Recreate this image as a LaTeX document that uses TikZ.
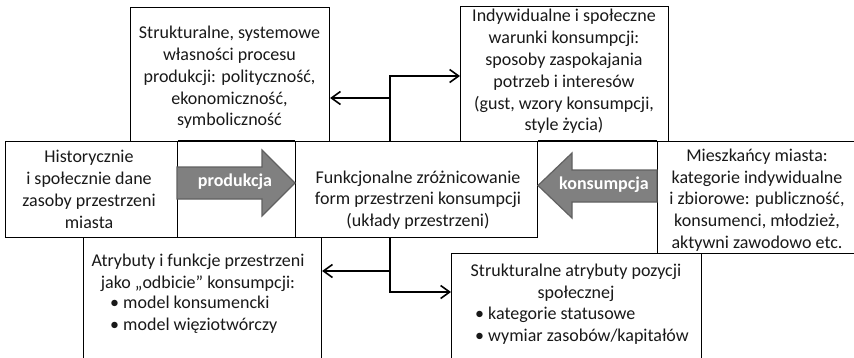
\documentclass[tikz,border=0pt]{standalone}
\usepackage{fontspec}
\setmainfont{Carlito}
\usetikzlibrary{arrows.meta,calc}
\begin{document}
\begin{tikzpicture}[x=1pt,y=-1pt,
 box/.style={draw=black, line width=1.1pt, fill=white, inner sep=0pt, anchor=north west},
 txt/.style={inner sep=0pt, align=center, text=black!90, font=\fontsize{18}{21.8}\selectfont},
 lst/.style={inner sep=0pt, align=left, anchor=west, text=black!90, font=\fontsize{18}{21.8}\selectfont},
 conn/.style={line width=1.6pt, -{Straight Barb[length=9pt,width=13pt]}},
 barrow/.style={fill=black!50, draw=black!62, line width=1.2pt, line join=miter},
 blab/.style={inner sep=0pt, text=white, font=\fontsize{18}{21.8}\selectfont\bfseries},
]
\useasboundingbox (0,0) rectangle (854,357);
\clip (0,0) rectangle (854,357);

% boxes
\node[box, minimum width=199pt, minimum height=134pt] (strukt) at (130,7) {};
\node[box, minimum width=208pt, minimum height=135pt] (indy) at (460,6) {};
\node[box, minimum width=172pt, minimum height=96pt] (hist) at (5,141) {};
\node[box, minimum width=242pt, minimum height=96pt] (funk) at (295,141) {};
\node[box, minimum width=220pt, minimum height=112pt] (mies) at (657,141) {};
\node[box, minimum width=238pt, minimum height=150pt] (atr) at (83,237) {};
\node[box, minimum width=250pt, minimum height=150pt] (stat) at (451,253) {};

% cell borders around the block arrows
\draw[line width=1.1pt] (hist.north east) -- (funk.north west);
\draw[line width=1.1pt] (funk.north east) -- (mies.north west);

% block arrows
\draw[barrow] (177,167) -- (262,167) -- (262,150) -- (295,183) -- (262,216) -- (262,199) -- (177,199) -- cycle;
\node[blab] (prodl) at (235,182) {produkcja};
\draw[barrow] (657,170) -- (572,170) -- (572,153) -- (538,185.5) -- (572,218) -- (572,202) -- (657,202) -- cycle;
\node[blab] (konsl) at (604,185) {konsumpcja};

% connectors
\coordinate (jt1) at (390,76);
\coordinate (jt2) at (390,98);
\coordinate (jb1) at (390,271);
\coordinate (jb2) at (390,292);
\draw[conn] (funk.north -| jt1) -- (jt1) -- (jt1 -| indy.west);
\draw[conn] (jt2) -- (jt2 -| strukt.east);
\draw[conn] (funk.south -| jb2) -- (jb2) -- (jb2 -| stat.west);
\draw[conn] (jb1) -- (jb1 -| atr.east);

% texts
\node[txt] (t1) at (229.5,77.5) {Strukturalne, systemowe\\własności procesu\\produkcji: polityczność,\\ekonomiczność,\\symboliczność};
\node[txt] (t2) at (564,71.5) {Indywidualne i społeczne\\warunki konsumpcji:\\sposoby zaspokajania\\potrzeb i interesów\\(gust, wzory konsumpcji,\\style życia)};
\node[txt] (t3) at (89,189.5) {Historycznie\\i społecznie dane\\zasoby przestrzeni\\miasta};
\node[txt] (t4) at (418,200) {Funkcjonalne zróżnicowanie\\form przestrzeni konsumpcji\\(układy przestrzeni)};
\node[txt] (t5) at (757,200) {Mieszkańcy miasta:\\kategorie indywidualne\\i zbiorowe: publiczność,\\konsumenci, młodzież,\\aktywni zawodowo etc.};
\node[txt] (t6) at (198,272.5) {Atrybuty i funkcje przestrzeni\\jako „odbicie” konsumpcji:};
\node[lst] (t7) at (110,315) {• model konsumencki\\• model więziotwórczy};
\node[txt] (t8) at (576,283) {Strukturalne atrybuty pozycji\\społecznej};
\node[lst] (t9) at (475,326) {• kategorie statusowe\\• wymiar zasobów/kapitałów};
\end{tikzpicture}
\end{document}
